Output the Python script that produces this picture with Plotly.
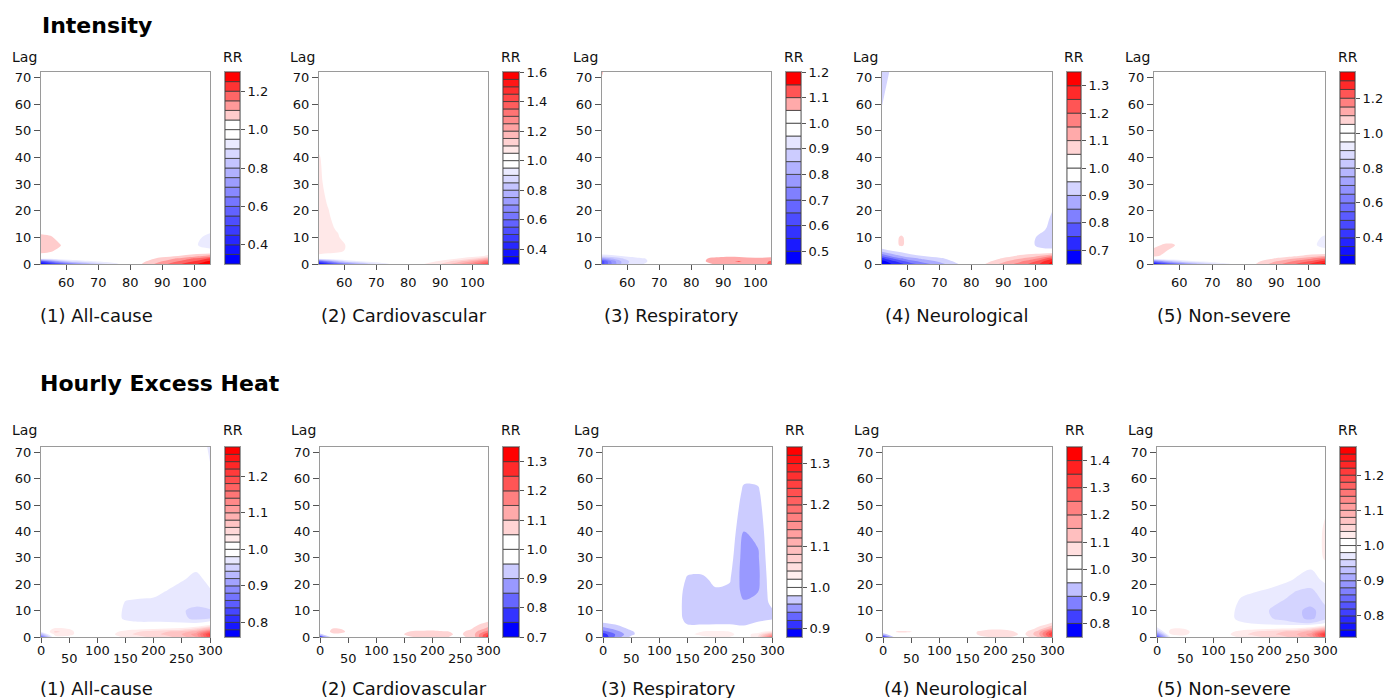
import plotly.graph_objects as go

FIG_W, FIG_H = 1386, 698

# ---------------- data ----------------
LAGS = [0, 1, 2, 3, 5, 7, 10, 13, 17, 22, 30, 40, 55, 72]
X_INTENSITY = [52, 55, 58, 61, 65, 70, 75, 80, 85, 90, 95, 100, 105]
X_HEAT = [0, 25, 50, 75, 100, 125, 150, 175, 200, 225, 250, 275, 300]

LAG_TICKS = [0, 10, 20, 30, 40, 50, 60, 70]
X_TICKS_INTENSITY = [60, 70, 80, 90, 100]
X_TICKS_HEAT = [0, 50, 100, 150, 200, 250, 300]
X_TICKS_HEAT_LOW = [50, 150, 250]

SECTION_TITLES = ["Intensity", "Hourly Excess Heat"]
OUTCOMES = ["(1) All-cause", "(2) Cardiovascular", "(3) Respiratory",
            "(4) Neurological", "(5) Non-severe"]

# RR contour levels: (lowest, highest, step)
LEVELS_INTENSITY = [(0.30, 1.30, 0.05), (0.30, 1.60, 0.05), (0.45, 1.20, 0.05),
                    (0.65, 1.35, 0.05), (0.25, 1.35, 0.05)]
LEVELS_HEAT = [(0.76, 1.28, 0.02), (0.70, 1.35, 0.05), (0.88, 1.34, 0.02),
               (0.75, 1.45, 0.05), (0.74, 1.28, 0.02)]

RR_TICKS_INTENSITY = [[0.4, 0.6, 0.8, 1.0, 1.2],
                      [0.4, 0.6, 0.8, 1.0, 1.2, 1.4, 1.6],
                      [0.5, 0.6, 0.7, 0.8, 0.9, 1.0, 1.1, 1.2],
                      [0.7, 0.8, 0.9, 1.0, 1.1, 1.2, 1.3],
                      [0.4, 0.6, 0.8, 1.0, 1.2]]
RR_TICKS_HEAT = [[0.8, 0.9, 1.0, 1.1, 1.2],
                 [0.7, 0.8, 0.9, 1.0, 1.1, 1.2, 1.3],
                 [0.9, 1.0, 1.1, 1.2, 1.3],
                 [0.8, 0.9, 1.0, 1.1, 1.2, 1.3, 1.4],
                 [0.8, 0.9, 1.0, 1.1, 1.2]]

# RR surfaces, one row per lag in LAGS, one column per x value
Z_INT_ALL = [
    [0.33, 0.43, 0.53, 0.64, 0.75, 0.86, 0.93, 1.00, 1.07, 1.13, 1.19, 1.24, 1.29],
    [0.52, 0.66, 0.80, 0.88, 0.93, 0.96, 0.99, 1.00, 1.05, 1.10, 1.15, 1.20, 1.26],
    [0.95, 0.97, 0.99, 1.00, 1.00, 1.00, 1.00, 1.00, 1.03, 1.07, 1.11, 1.16, 1.21],
    [1.03, 1.02, 1.01, 1.00, 1.00, 1.00, 1.00, 1.00, 1.00, 1.03, 1.05, 1.08, 1.12],
    [1.07, 1.06, 1.03, 1.00, 1.00, 1.00, 1.00, 1.00, 1.00, 1.00, 1.00, 0.99, 0.97],
    [1.09, 1.08, 1.055, 1.00, 1.00, 1.00, 1.00, 1.00, 1.00, 1.00, 1.00, 0.96, 0.92],
    [1.07, 1.06, 1.02, 1.00, 1.00, 1.00, 1.00, 1.00, 1.00, 1.00, 1.00, 0.97, 0.93],
    [1.02, 1.01, 1.00, 1.00, 1.00, 1.00, 1.00, 1.00, 1.00, 1.00, 1.00, 0.99, 0.97],
    [1.00, 1.00, 1.00, 1.00, 1.00, 1.00, 1.00, 1.00, 1.00, 1.00, 1.00, 1.00, 0.99],
    [1.00, 1.00, 1.00, 1.00, 1.00, 1.00, 1.00, 1.00, 1.00, 1.00, 1.00, 1.00, 1.00],
    [1.00, 1.00, 1.00, 1.00, 1.00, 1.00, 1.00, 1.00, 1.00, 1.00, 1.00, 1.00, 1.00],
    [1.00, 1.00, 1.00, 1.00, 1.00, 1.00, 1.00, 1.00, 1.00, 1.00, 1.00, 1.00, 1.00],
    [1.00, 1.00, 1.00, 1.00, 1.00, 1.00, 1.00, 1.00, 1.00, 1.00, 1.00, 1.00, 1.00],
    [1.00, 1.00, 1.00, 1.00, 1.00, 1.00, 1.00, 1.00, 1.00, 1.00, 1.00, 1.00, 1.00],
]
Z_INT_CVD = [
    [0.33, 0.45, 0.57, 0.68, 0.80, 0.90, 0.96, 1.00, 1.05, 1.10, 1.18, 1.28, 1.42],
    [0.55, 0.70, 0.83, 0.91, 0.95, 0.98, 1.00, 1.00, 1.02, 1.06, 1.12, 1.20, 1.32],
    [0.96, 0.99, 1.00, 1.00, 1.00, 1.00, 1.00, 1.00, 1.00, 1.02, 1.05, 1.10, 1.18],
    [1.04, 1.03, 1.02, 1.00, 1.00, 1.00, 1.00, 1.00, 1.00, 1.00, 1.00, 1.02, 1.06],
    [1.07, 1.07, 1.065, 1.04, 1.00, 1.00, 1.00, 1.00, 1.00, 1.00, 1.00, 1.00, 1.00],
    [1.07, 1.07, 1.065, 1.045, 1.00, 1.00, 1.00, 1.00, 1.00, 1.00, 1.00, 1.00, 1.00],
    [1.07, 1.065, 1.055, 1.02, 1.00, 1.00, 1.00, 1.00, 1.00, 1.00, 1.00, 1.00, 1.00],
    [1.068, 1.06, 1.045, 1.00, 1.00, 1.00, 1.00, 1.00, 1.00, 1.00, 1.00, 1.00, 1.00],
    [1.065, 1.055, 1.035, 1.00, 1.00, 1.00, 1.00, 1.00, 1.00, 1.00, 1.00, 1.00, 1.00],
    [1.062, 1.048, 1.02, 1.00, 1.00, 1.00, 1.00, 1.00, 1.00, 1.00, 1.00, 1.00, 1.00],
    [1.06, 1.035, 1.01, 1.00, 1.00, 1.00, 1.00, 1.00, 1.00, 1.00, 1.00, 1.00, 1.00],
    [1.055, 1.02, 1.00, 1.00, 1.00, 1.00, 1.00, 1.00, 1.00, 1.00, 1.00, 1.00, 1.00],
    [1.00, 1.00, 1.00, 1.00, 1.00, 1.00, 1.00, 1.00, 1.00, 1.00, 1.00, 1.00, 1.00],
    [1.00, 1.00, 1.00, 1.00, 1.00, 1.00, 1.00, 1.00, 1.00, 1.00, 1.00, 1.00, 1.00],
]
Z_INT_RESP = [
    [0.62, 0.75, 0.85, 0.92, 0.95, 0.99, 1.00, 1.00, 1.04, 1.07, 1.08, 1.07, 1.11],
    [0.62, 0.76, 0.85, 0.91, 0.94, 0.98, 1.00, 1.00, 1.055, 1.09, 1.105, 1.07, 1.105],
    [0.78, 0.84, 0.89, 0.93, 0.945, 0.98, 1.00, 1.00, 1.05, 1.07, 1.07, 1.06, 1.07],
    [0.93, 0.94, 0.95, 0.96, 0.98, 1.00, 1.00, 1.00, 1.02, 1.04, 1.04, 1.03, 1.03],
    [1.00, 1.00, 1.00, 1.00, 1.00, 1.00, 1.00, 1.00, 1.00, 1.00, 1.00, 1.00, 1.00],
    [1.00, 1.00, 1.00, 1.00, 1.00, 1.00, 1.00, 1.00, 1.00, 1.00, 1.00, 1.00, 1.00],
    [1.00, 1.00, 1.00, 1.00, 1.00, 1.00, 1.00, 1.00, 1.00, 1.00, 1.00, 1.00, 1.00],
    [1.00, 1.00, 1.00, 1.00, 1.00, 1.00, 1.00, 1.00, 1.00, 1.00, 1.00, 1.00, 1.00],
    [1.00, 1.00, 1.00, 1.00, 1.00, 1.00, 1.00, 1.00, 1.00, 1.00, 1.00, 1.00, 1.00],
    [1.00, 1.00, 1.00, 1.00, 1.00, 1.00, 1.00, 1.00, 1.00, 1.00, 1.00, 1.00, 1.00],
    [1.00, 1.00, 1.00, 1.00, 1.00, 1.00, 1.00, 1.00, 1.00, 1.00, 1.00, 1.00, 1.00],
    [1.00, 1.00, 1.00, 1.00, 1.00, 1.00, 1.00, 1.00, 1.00, 1.00, 1.00, 1.00, 1.00],
    [1.00, 1.00, 1.00, 1.00, 1.00, 1.00, 1.00, 1.00, 1.00, 1.00, 1.00, 1.00, 1.00],
    [1.055, 1.00, 1.00, 1.00, 1.00, 1.00, 1.00, 1.00, 1.00, 1.00, 1.00, 1.00, 1.00],
]
Z_INT_NEURO = [
    [0.66, 0.70, 0.74, 0.78, 0.83, 0.88, 0.94, 1.00, 1.06, 1.12, 1.17, 1.23, 1.32],
    [0.68, 0.73, 0.78, 0.83, 0.87, 0.91, 0.96, 1.00, 1.04, 1.09, 1.14, 1.20, 1.30],
    [0.73, 0.79, 0.84, 0.88, 0.91, 0.94, 0.97, 1.00, 1.02, 1.06, 1.10, 1.15, 1.24],
    [0.81, 0.86, 0.90, 0.93, 0.95, 0.97, 0.99, 1.00, 1.00, 1.03, 1.06, 1.09, 1.15],
    [0.92, 0.95, 0.97, 0.99, 1.00, 1.00, 1.00, 1.00, 1.00, 1.00, 1.00, 0.99, 0.97],
    [1.00, 1.00, 1.065, 1.00, 1.00, 1.00, 1.00, 1.00, 1.00, 1.00, 1.00, 0.945, 0.92],
    [1.00, 1.00, 1.065, 1.00, 1.00, 1.00, 1.00, 1.00, 1.00, 1.00, 1.00, 0.95, 0.92],
    [1.00, 1.00, 1.00, 1.00, 1.00, 1.00, 1.00, 1.00, 1.00, 1.00, 1.00, 0.98, 0.93],
    [1.00, 1.00, 1.00, 1.00, 1.00, 1.00, 1.00, 1.00, 1.00, 1.00, 1.00, 1.00, 0.94],
    [1.00, 1.00, 1.00, 1.00, 1.00, 1.00, 1.00, 1.00, 1.00, 1.00, 1.00, 1.00, 0.96],
    [1.00, 1.00, 1.00, 1.00, 1.00, 1.00, 1.00, 1.00, 1.00, 1.00, 1.00, 1.00, 1.00],
    [1.00, 1.00, 1.00, 1.00, 1.00, 1.00, 1.00, 1.00, 1.00, 1.00, 1.00, 1.00, 1.00],
    [0.96, 1.00, 1.00, 1.00, 1.00, 1.00, 1.00, 1.00, 1.00, 1.00, 1.00, 1.00, 1.00],
    [0.92, 0.96, 1.00, 1.00, 1.00, 1.00, 1.00, 1.00, 1.00, 1.00, 1.00, 1.00, 1.00],
]
Z_INT_NONSEV = [
    [0.30, 0.42, 0.55, 0.66, 0.78, 0.88, 0.94, 1.00, 1.07, 1.13, 1.19, 1.25, 1.32],
    [0.60, 0.74, 0.84, 0.91, 0.95, 0.98, 1.00, 1.00, 1.05, 1.10, 1.15, 1.20, 1.27],
    [1.00, 1.00, 1.00, 1.00, 1.00, 1.00, 1.00, 1.00, 1.02, 1.06, 1.10, 1.14, 1.20],
    [1.06, 1.04, 1.01, 1.00, 1.00, 1.00, 1.00, 1.00, 1.00, 1.02, 1.04, 1.07, 1.10],
    [1.07, 1.06, 1.03, 1.00, 1.00, 1.00, 1.00, 1.00, 1.00, 1.00, 1.00, 0.99, 0.97],
    [1.03, 1.06, 1.06, 1.00, 1.00, 1.00, 1.00, 1.00, 1.00, 1.00, 1.00, 0.97, 0.93],
    [1.00, 1.00, 1.00, 1.00, 1.00, 1.00, 1.00, 1.00, 1.00, 1.00, 1.00, 0.98, 0.94],
    [1.00, 1.00, 1.00, 1.00, 1.00, 1.00, 1.00, 1.00, 1.00, 1.00, 1.00, 1.00, 0.98],
    [1.00, 1.00, 1.00, 1.00, 1.00, 1.00, 1.00, 1.00, 1.00, 1.00, 1.00, 1.00, 1.00],
    [1.00, 1.00, 1.00, 1.00, 1.00, 1.00, 1.00, 1.00, 1.00, 1.00, 1.00, 1.00, 1.00],
    [1.00, 1.00, 1.00, 1.00, 1.00, 1.00, 1.00, 1.00, 1.00, 1.00, 1.00, 1.00, 1.00],
    [1.00, 1.00, 1.00, 1.00, 1.00, 1.00, 1.00, 1.00, 1.00, 1.00, 1.00, 1.00, 1.00],
    [1.00, 1.00, 1.00, 1.00, 1.00, 1.00, 1.00, 1.00, 1.00, 1.00, 1.00, 1.00, 1.00],
    [1.00, 1.00, 1.00, 1.00, 1.00, 1.00, 1.00, 1.00, 1.00, 1.00, 1.00, 1.00, 1.00],
]

Z_HEAT_ALL = [
    [0.86, 1.01, 1.01, 1.00, 1.00, 1.01, 1.025, 1.035, 1.045, 1.055, 1.07, 1.10, 1.20],
    [0.93, 1.03, 1.03, 1.00, 1.00, 1.015, 1.035, 1.045, 1.055, 1.065, 1.08, 1.11, 1.21],
    [0.98, 1.045, 1.03, 1.00, 1.00, 1.01, 1.03, 1.04, 1.05, 1.06, 1.07, 1.09, 1.16],
    [1.00, 1.025, 1.02, 1.00, 1.00, 1.00, 1.01, 1.015, 1.02, 1.025, 1.03, 1.05, 1.09],
    [1.00, 1.00, 1.00, 1.00, 1.00, 1.00, 0.99, 0.985, 0.985, 0.985, 0.985, 0.985, 1.00],
    [1.00, 1.00, 1.00, 1.00, 1.00, 0.995, 0.975, 0.972, 0.972, 0.97, 0.965, 0.955, 0.96],
    [1.00, 1.00, 1.00, 1.00, 1.00, 0.995, 0.975, 0.97, 0.97, 0.968, 0.962, 0.955, 0.958],
    [1.00, 1.00, 1.00, 1.00, 1.00, 1.00, 0.978, 0.975, 0.975, 0.972, 0.968, 0.965, 0.97],
    [1.00, 1.00, 1.00, 1.00, 1.00, 1.00, 0.99, 0.988, 0.985, 0.978, 0.972, 0.97, 0.978],
    [1.00, 1.00, 1.00, 1.00, 1.00, 1.00, 1.00, 1.00, 0.995, 0.99, 0.982, 0.975, 0.985],
    [1.00, 1.00, 1.00, 1.00, 1.00, 1.00, 1.00, 1.00, 1.00, 1.00, 1.00, 0.99, 1.00],
    [1.00, 1.00, 1.00, 1.00, 1.00, 1.00, 1.00, 1.00, 1.00, 1.00, 1.00, 1.00, 1.00],
    [1.00, 1.00, 1.00, 1.00, 1.00, 1.00, 1.00, 1.00, 1.00, 1.00, 1.00, 1.00, 0.99],
    [1.00, 1.00, 1.00, 1.00, 1.00, 1.00, 1.00, 1.00, 1.00, 1.00, 1.00, 1.00, 0.975],
]
Z_HEAT_CVD = [
    [0.80, 1.00, 1.02, 1.00, 1.00, 1.00, 1.04, 1.055, 1.06, 1.055, 1.03, 1.08, 1.28],
    [0.93, 1.04, 1.04, 1.00, 1.00, 1.00, 1.05, 1.065, 1.07, 1.06, 1.04, 1.09, 1.25],
    [1.00, 1.07, 1.045, 1.00, 1.00, 1.00, 1.045, 1.06, 1.065, 1.055, 1.035, 1.08, 1.18],
    [1.00, 1.06, 1.04, 1.00, 1.00, 1.00, 1.00, 1.03, 1.035, 1.02, 1.00, 1.06, 1.12],
    [1.00, 1.00, 1.00, 1.00, 1.00, 1.00, 1.00, 1.00, 1.00, 1.00, 1.00, 1.03, 1.07],
    [1.00, 1.00, 1.00, 1.00, 1.00, 1.00, 1.00, 1.00, 1.00, 1.00, 1.00, 1.00, 1.02],
    [1.00, 1.00, 1.00, 1.00, 1.00, 1.00, 1.00, 1.00, 1.00, 1.00, 1.00, 1.00, 1.00],
    [1.00, 1.00, 1.00, 1.00, 1.00, 1.00, 1.00, 1.00, 1.00, 1.00, 1.00, 1.00, 1.00],
    [1.00, 1.00, 1.00, 1.00, 1.00, 1.00, 1.00, 1.00, 1.00, 1.00, 1.00, 1.00, 1.00],
    [1.00, 1.00, 1.00, 1.00, 1.00, 1.00, 1.00, 1.00, 1.00, 1.00, 1.00, 1.00, 1.00],
    [1.00, 1.00, 1.00, 1.00, 1.00, 1.00, 1.00, 1.00, 1.00, 1.00, 1.00, 1.00, 1.00],
    [1.00, 1.00, 1.00, 1.00, 1.00, 1.00, 1.00, 1.00, 1.00, 1.00, 1.00, 1.00, 1.00],
    [1.00, 1.00, 1.00, 1.00, 1.00, 1.00, 1.00, 1.00, 1.00, 1.00, 1.00, 1.00, 1.00],
    [1.00, 1.00, 1.00, 1.00, 1.00, 1.00, 1.00, 1.00, 1.00, 1.00, 1.00, 1.00, 1.00],
]
Z_HEAT_RESP = [
    [0.90, 0.95, 0.985, 0.99, 0.995, 1.00, 1.01, 1.015, 1.02, 1.02, 1.00, 1.04, 1.20],
    [0.91, 0.945, 0.975, 0.995, 1.00, 1.005, 1.015, 1.025, 1.03, 1.025, 1.01, 1.03, 1.12],
    [0.93, 0.955, 0.975, 1.00, 1.00, 1.00, 1.01, 1.02, 1.025, 1.02, 1.005, 1.01, 1.04],
    [0.95, 0.965, 0.985, 1.00, 1.00, 1.00, 0.995, 1.00, 1.005, 1.00, 0.99, 0.995, 1.00],
    [0.975, 0.985, 1.00, 1.00, 1.00, 0.995, 0.978, 0.977, 0.978, 0.978, 0.975, 0.985, 0.99],
    [1.00, 1.00, 1.00, 1.00, 1.00, 0.995, 0.972, 0.97, 0.972, 0.972, 0.968, 0.972, 0.978],
    [1.00, 1.00, 1.00, 1.00, 1.00, 0.995, 0.97, 0.968, 0.97, 0.97, 0.965, 0.965, 0.978],
    [1.00, 1.00, 1.00, 1.00, 1.00, 0.995, 0.97, 0.968, 0.97, 0.97, 0.962, 0.965, 0.985],
    [1.00, 1.00, 1.00, 1.00, 1.00, 0.995, 0.972, 0.97, 0.977, 0.975, 0.955, 0.96, 0.99],
    [1.00, 1.00, 1.00, 1.00, 1.00, 1.00, 0.977, 0.976, 0.985, 0.982, 0.95, 0.955, 0.995],
    [1.00, 1.00, 1.00, 1.00, 1.00, 1.00, 0.995, 0.995, 1.00, 0.99, 0.95, 0.957, 1.00],
    [1.00, 1.00, 1.00, 1.00, 1.00, 1.00, 1.00, 1.00, 1.00, 0.995, 0.96, 0.965, 1.00],
    [1.00, 1.00, 1.00, 1.00, 1.00, 1.00, 1.00, 1.00, 1.00, 1.00, 0.976, 0.977, 1.00],
    [1.00, 1.00, 1.00, 1.00, 1.00, 1.00, 1.00, 1.00, 1.00, 1.00, 1.00, 1.00, 1.00],
]
Z_HEAT_NEURO = [
    [0.80, 1.00, 1.00, 1.00, 1.00, 1.00, 1.02, 1.045, 1.055, 1.05, 1.02, 1.10, 1.30],
    [0.92, 1.03, 1.03, 1.00, 1.00, 1.00, 1.03, 1.06, 1.07, 1.065, 1.04, 1.13, 1.35],
    [1.00, 1.055, 1.052, 1.00, 1.00, 1.00, 1.03, 1.06, 1.07, 1.06, 1.03, 1.12, 1.30],
    [1.00, 1.03, 1.03, 1.00, 1.00, 1.00, 1.01, 1.035, 1.045, 1.04, 1.00, 1.07, 1.18],
    [1.00, 1.00, 1.00, 1.00, 1.00, 1.00, 1.00, 1.00, 1.00, 1.00, 1.00, 1.02, 1.06],
    [1.00, 1.00, 1.00, 1.00, 1.00, 1.00, 1.00, 1.00, 1.00, 1.00, 1.00, 1.00, 1.02],
    [1.00, 1.00, 1.00, 1.00, 1.00, 1.00, 1.00, 1.00, 1.00, 1.00, 1.00, 1.00, 1.00],
    [1.00, 1.00, 1.00, 1.00, 1.00, 1.00, 1.00, 1.00, 1.00, 1.00, 1.00, 1.00, 1.00],
    [1.00, 1.00, 1.00, 1.00, 1.00, 1.00, 1.00, 1.00, 1.00, 1.00, 1.00, 1.00, 1.00],
    [1.00, 1.00, 1.00, 1.00, 1.00, 1.00, 1.00, 1.00, 1.00, 1.00, 1.00, 1.00, 1.00],
    [1.00, 1.00, 1.00, 1.00, 1.00, 1.00, 1.00, 1.00, 1.00, 1.00, 1.00, 1.00, 1.00],
    [1.00, 1.00, 1.00, 1.00, 1.00, 1.00, 1.00, 1.00, 1.00, 1.00, 1.00, 1.00, 1.00],
    [1.00, 1.00, 1.00, 1.00, 1.00, 1.00, 1.00, 1.00, 1.00, 1.00, 1.00, 1.00, 1.00],
    [1.00, 1.00, 1.00, 1.00, 1.00, 1.00, 1.00, 1.00, 1.00, 1.00, 1.00, 1.00, 1.00],
]
Z_HEAT_NONSEV = [
    [0.82, 0.99, 1.01, 1.00, 1.00, 1.01, 1.025, 1.035, 1.045, 1.055, 1.07, 1.10, 1.20],
    [0.88, 1.02, 1.025, 1.00, 1.00, 1.015, 1.035, 1.045, 1.055, 1.065, 1.08, 1.11, 1.22],
    [0.93, 1.035, 1.03, 1.00, 1.00, 1.01, 1.03, 1.04, 1.05, 1.06, 1.07, 1.09, 1.16],
    [0.97, 1.02, 1.02, 1.00, 1.00, 1.00, 1.01, 1.015, 1.02, 1.025, 1.03, 1.05, 1.09],
    [1.00, 1.00, 1.00, 1.00, 1.00, 1.00, 0.985, 0.98, 0.975, 0.97, 0.965, 0.965, 0.985],
    [1.00, 1.00, 1.00, 1.00, 1.00, 0.99, 0.972, 0.968, 0.962, 0.955, 0.945, 0.935, 0.955],
    [1.00, 1.00, 1.00, 1.00, 1.00, 0.99, 0.972, 0.966, 0.96, 0.955, 0.945, 0.932, 0.955],
    [1.00, 1.00, 1.00, 1.00, 1.00, 0.995, 0.975, 0.97, 0.965, 0.958, 0.948, 0.948, 0.962],
    [1.00, 1.00, 1.00, 1.00, 1.00, 1.00, 0.985, 0.98, 0.975, 0.968, 0.958, 0.955, 0.97],
    [1.00, 1.00, 1.00, 1.00, 1.00, 1.00, 1.00, 1.00, 0.993, 0.987, 0.978, 0.972, 0.985],
    [1.00, 1.00, 1.00, 1.00, 1.00, 1.00, 1.00, 1.00, 1.00, 1.00, 0.995, 0.99, 1.025],
    [1.00, 1.00, 1.00, 1.00, 1.00, 1.00, 1.00, 1.00, 1.00, 1.00, 1.00, 1.00, 1.025],
    [1.00, 1.00, 1.00, 1.00, 1.00, 1.00, 1.00, 1.00, 1.00, 1.00, 1.00, 1.00, 1.01],
    [1.00, 1.00, 1.00, 1.00, 1.00, 1.00, 1.00, 1.00, 1.00, 1.00, 1.00, 1.00, 1.00],
]

Z_INTENSITY = [Z_INT_ALL, Z_INT_CVD, Z_INT_RESP, Z_INT_NEURO, Z_INT_NONSEV]
Z_HEAT = [Z_HEAT_ALL, Z_HEAT_CVD, Z_HEAT_RESP, Z_HEAT_NEURO, Z_HEAT_NONSEV]

# ---------------- layout geometry (pixels) ----------------
PLOT_X = [[(41, 210), (319, 488), (602, 771), (882, 1052), (1154, 1325)],
          [(41, 210), (320, 488), (603, 772), (883, 1052), (1157, 1325)]]
CBAR_X = [[(225, 240), (503, 519), (786, 801), (1067, 1081), (1340, 1355)],
          [(225, 240), (503, 519), (787, 802), (1067, 1082), (1340, 1356)]]
ROW_Y = [(72, 264), (447, 637)]
LABEL_Y = [57, 430]
SUBTITLE_Y = [315, 688]
SUBTITLE_X = [[38, 319, 602, 883, 1155], [38, 319, 599, 882, 1155]]
SECTION_POS = [(40, 25), (38, 383)]

FONT = "DejaVu Sans"
TXT = "#111111"
BOX = "#9a9a9a"
TICK = "#555555"
EPS = 1e-6


def px_x(v):
    return v / FIG_W


def px_y(v):
    return 1 - v / FIG_H


def ramp(c1, c2, n):
    if n == 1:
        return [c1]
    return [tuple(int(round(c1[k] + (c2[k] - c1[k]) * i / (n - 1))) for k in range(3))
            for i in range(n)]


def level_info(lo, hi, step):
    nb = int(round((hi - lo) / step))
    levels = [round(lo + i * step, 6) for i in range(nb + 1)]
    n_below = sum(1 for v in levels if v < 1 - 1e-9)
    n_above = sum(1 for v in levels if v > 1 + 1e-9)
    cols = ramp((0, 0, 255), (255, 255, 255), n_below) + ramp((255, 255, 255), (255, 0, 0), n_above)
    return levels, cols


def rgb(c):
    return "rgb(%d,%d,%d)" % c


def sfx(n):
    return "" if n == 1 else str(n)


fig = go.Figure()
layout = dict(width=FIG_W, height=FIG_H,
              margin=dict(l=0, r=0, t=0, b=0, pad=0, autoexpand=False),
              paper_bgcolor="white", plot_bgcolor="white", showlegend=False,
              barmode="overlay", font=dict(family=FONT, color=TXT, size=13))
annotations = []

rows = [(X_INTENSITY, Z_INTENSITY, LEVELS_INTENSITY, RR_TICKS_INTENSITY, [52, 105]),
        (X_HEAT, Z_HEAT, LEVELS_HEAT, RR_TICKS_HEAT, [0, 300])]

for r, (xs, zs, lvls, rrticks, xr) in enumerate(rows):
    y0, y1 = ROW_Y[r]
    for j in range(5):
        pi = r * 5 + j + 1
        ci = 10 + pi
        lo, hi, step = lvls[j]
        levels, cols = level_info(lo, hi, step)
        nbands = len(cols)
        cscale = [[k / (nbands - 1), rgb(c)] for k, c in enumerate(cols)]

        fig.add_trace(go.Contour(
            x=xs, y=LAGS, z=zs[j], xaxis="x" + sfx(pi), yaxis="y" + sfx(pi),
            autocontour=False,
            contours=dict(start=levels[1] + EPS, end=levels[-2] + EPS, size=step,
                          coloring="fill", showlines=False),
            colorscale=cscale, showscale=False, line=dict(width=0, smoothing=1),
            hoverinfo="skip"))

        fig.add_trace(go.Bar(
            x=[0.5] * nbands, y=[step] * nbands, base=levels[:-1], width=1,
            marker=dict(color=[rgb(c) for c in cols], line=dict(color="#3a3a3a", width=0.8)),
            xaxis="x" + sfx(ci), yaxis="y" + sfx(ci), hoverinfo="skip"))

        px0, px1 = PLOT_X[r][j]
        layout["xaxis" + sfx(pi)] = dict(
            domain=[px_x(px0), px_x(px1)], range=xr, anchor="y" + sfx(pi),
            showline=True, mirror=True, linecolor=BOX, linewidth=1,
            ticks="outside", ticklen=5, tickcolor=TICK, tickwidth=1,
            tickvals=X_TICKS_INTENSITY if r == 0 else X_TICKS_HEAT,
            showticklabels=False, showgrid=False, zeroline=False, fixedrange=True)
        layout["yaxis" + sfx(pi)] = dict(
            domain=[px_y(y1), px_y(y0)], range=[0, 72], anchor="x" + sfx(pi),
            showline=True, mirror=True, linecolor=BOX, linewidth=1,
            ticks="outside", ticklen=6, tickcolor=TICK, tickwidth=1,
            tickvals=LAG_TICKS, tickfont=dict(size=13, color=TXT),
            showgrid=False, zeroline=False, fixedrange=True)

        cx0, cx1 = CBAR_X[r][j]
        layout["xaxis" + sfx(ci)] = dict(
            domain=[px_x(cx0), px_x(cx1)], range=[0, 1], anchor="y" + sfx(ci),
            showline=True, mirror=True, linecolor=BOX, linewidth=1,
            ticks="", showticklabels=False, showgrid=False, zeroline=False, fixedrange=True)
        layout["yaxis" + sfx(ci)] = dict(
            domain=[px_y(y1), px_y(y0)], range=[lo, hi], anchor="x" + sfx(ci),
            side="right", showline=True, mirror=True, linecolor=BOX, linewidth=1,
            ticks="outside", ticklen=4, tickcolor=TICK, tickwidth=1,
            tickvals=rrticks[j], ticktext=["%.1f" % v for v in rrticks[j]],
            tickfont=dict(size=13, color=TXT),
            showgrid=False, zeroline=False, fixedrange=True)

        # x tick labels (staggered in the heat row)
        xtl = X_TICKS_INTENSITY if r == 0 else X_TICKS_HEAT
        for v in xtl:
            if r == 0:
                shift = -18
            else:
                shift = -21 if v in X_TICKS_HEAT_LOW else -13
            annotations.append(dict(x=v, xref="x" + sfx(pi), y=px_y(y1), yref="paper",
                                    text=str(v), showarrow=False, xanchor="center",
                                    yanchor="middle", yshift=shift,
                                    font=dict(size=13, color=TXT)))

        # "Lag" and "RR" labels
        annotations.append(dict(x=px_x(px0 - 17), y=px_y(LABEL_Y[r]), xref="paper", yref="paper",
                                text="Lag", showarrow=False, xanchor="center", yanchor="middle",
                                font=dict(size=14, color=TXT)))
        annotations.append(dict(x=px_x((cx0 + cx1) / 2), y=px_y(LABEL_Y[r]), xref="paper",
                                yref="paper", text="RR", showarrow=False, xanchor="center",
                                yanchor="middle", font=dict(size=14, color=TXT)))
        # subtitle
        annotations.append(dict(x=px_x(SUBTITLE_X[r][j]), y=px_y(SUBTITLE_Y[r]), xref="paper",
                                yref="paper", text=OUTCOMES[j], showarrow=False,
                                xanchor="left", yanchor="middle",
                                font=dict(size=18, color=TXT)))

    sx, sy = SECTION_POS[r]
    annotations.append(dict(x=px_x(sx), y=px_y(sy), xref="paper", yref="paper",
                            text="<b>%s</b>" % SECTION_TITLES[r], showarrow=False,
                            xanchor="left", yanchor="middle",
                            font=dict(size=22, color="#000000")))

layout["annotations"] = annotations
fig.update_layout(**layout)
fig.write_html("out.html")
